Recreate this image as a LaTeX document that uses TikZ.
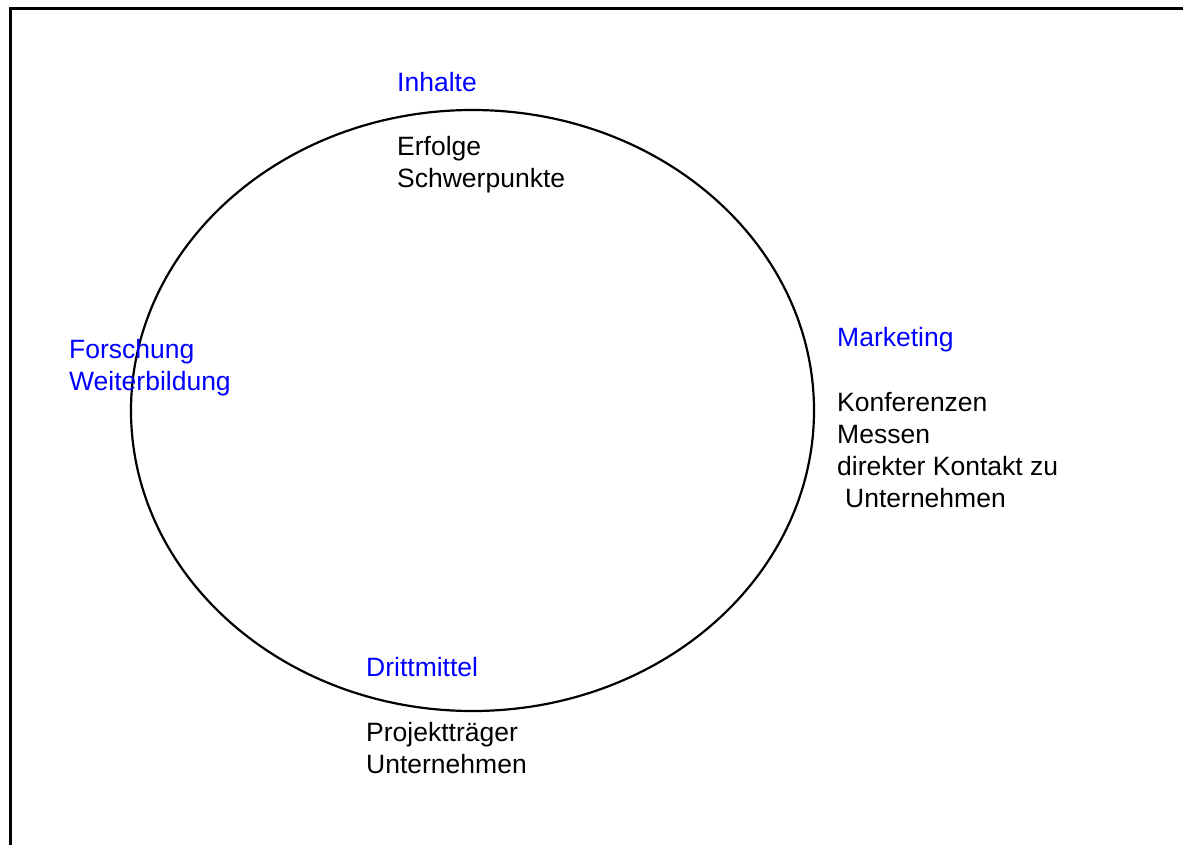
\documentclass[tikz,border=0pt]{standalone}
\usepackage{fontspec}
\setmainfont{Liberation Sans}
\usetikzlibrary{shapes.geometric}
\definecolor{lblue}{RGB}{0,0,255}
\begin{document}
\begin{tikzpicture}[x=1pt,y=-1pt,
  txt/.style={anchor=base west,inner sep=0pt,align=left,font=\fontsize{26.5}{32}\selectfont},
  head/.style={txt,text=lblue},
  body/.style={txt,text=black}]
\useasboundingbox (0,0) rectangle (1183,844);
\begin{scope}
\clip (0,0) rectangle (1183,844);
\coordinate (fb) at (10.5,850);
\coordinate (fc) at (10.5,8.5);
\coordinate (fr) at (1190,8.5);
\draw[line width=3pt] (fb) -- (fc) -- (fr);
\end{scope}
\node[draw,ellipse,line width=2.2pt,minimum width=683pt,minimum height=601pt,inner sep=0pt] (circle) at (472.5,410.5) {};
% multi-line nodes: anchor base = baseline of last line
\node[head] (inhalte) at (397,91) {Inhalte};
\node[body] (erfolge) at (397,187) {Erfolge\\Schwerpunkte};
\node[head] (forschung) at (69,390) {Forschung\\Weiterbildung};
\node[head] (marketing) at (837,346) {Marketing};
\node[body] (konf) at (837,507) {Konferenzen\\Messen\\direkter Kontakt zu\\\hspace*{8pt}Unternehmen};
\node[head] (dritt) at (366,676) {Drittmittel};
\node[body] (proj) at (366,773) {Projektträger\\Unternehmen};
\end{tikzpicture}
\end{document}
